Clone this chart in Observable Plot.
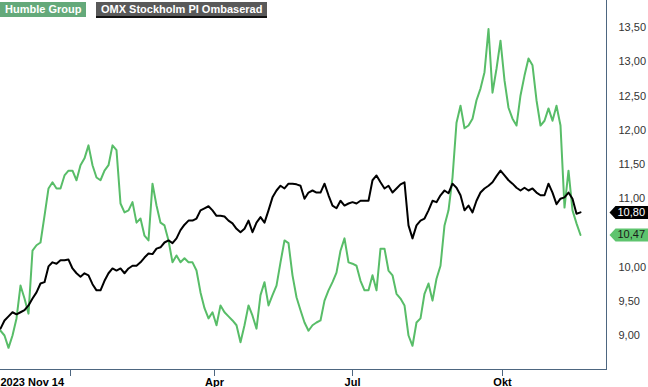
<!DOCTYPE html>
<html><head><meta charset="utf-8">
<script src="https://cdn.jsdelivr.net/npm/d3@7"></script>
<script src="https://cdn.jsdelivr.net/npm/@observablehq/plot@0.6"></script>
<style>
html,body{margin:0;padding:0;background:#fff;}
#wrap{position:relative;width:648px;height:387px;font-family:"Liberation Sans",Arial,sans-serif;overflow:hidden;}
#wrap svg{position:absolute;left:0;top:0;}
.leg{position:absolute;top:2px;height:15px;line-height:15px;font-size:11px;font-weight:bold;color:#fff;padding:0 5px;box-sizing:border-box;white-space:nowrap;}
</style></head><body><div id="wrap"></div>
<script>
const seriesNames = ["Humble Group", "OMX Stockholm PI Ombaserad"];
const humble = [9.07,9.00,8.82,9.00,9.25,9.73,9.54,9.32,10.24,10.32,10.36,10.75,11.15,11.24,11.15,11.15,11.34,11.41,11.41,11.27,
11.49,11.59,11.78,11.49,11.31,11.27,11.41,11.49,11.78,11.71,10.93,10.80,10.83,10.95,10.65,10.71,10.46,10.39,11.22,10.90,
10.65,10.61,10.39,10.07,10.17,10.07,10.13,10.07,10.07,9.95,9.63,9.40,9.25,9.34,9.15,9.44,9.34,9.28,9.22,9.15,
8.90,9.15,9.44,9.29,9.10,9.59,9.78,9.44,9.59,9.73,10.07,10.39,10.35,9.88,9.56,9.37,9.19,9.07,9.15,9.19,
9.22,9.51,9.66,9.78,9.92,10.24,10.42,10.07,10.05,10.02,9.80,9.66,9.66,9.88,9.66,10.27,10.27,9.95,9.88,9.61,
9.54,9.44,9.00,8.85,9.19,9.25,9.61,9.76,9.51,9.83,10.02,10.61,10.83,11.31,12.11,12.36,12.03,12.07,12.17,12.44,
12.61,12.85,13.48,12.55,12.90,13.31,12.73,12.33,12.17,12.07,12.51,12.80,13.05,12.95,12.44,12.07,12.14,12.32,12.14,12.36,
12.07,10.87,11.41,10.83,10.64,10.47];
const omx = [9.10,9.22,9.28,9.34,9.31,9.34,9.37,9.44,9.54,9.63,9.76,9.78,10.01,10.07,10.05,10.10,10.10,10.11,9.98,9.91,
9.86,9.91,9.88,9.75,9.66,9.66,9.80,9.91,9.98,9.95,9.98,9.91,9.98,10.02,10.02,10.07,10.14,10.20,10.19,10.27,
10.29,10.36,10.39,10.35,10.42,10.54,10.62,10.68,10.68,10.71,10.83,10.86,10.89,10.83,10.75,10.75,10.74,10.68,10.64,10.56,
10.51,10.56,10.68,10.51,10.65,10.73,10.65,10.83,11.02,11.12,11.19,11.15,11.22,11.22,11.21,11.19,11.00,11.09,11.12,11.09,
11.09,11.22,11.05,10.90,10.86,10.97,10.90,10.93,10.95,10.93,10.97,10.97,10.97,11.27,11.34,11.24,11.15,11.19,11.09,11.15,
11.21,11.24,10.61,10.42,10.61,10.68,10.71,10.83,10.97,10.95,11.05,11.12,11.08,11.22,11.16,11.05,10.83,10.90,10.80,10.97,
11.09,11.15,11.19,11.24,11.33,11.41,11.34,11.27,11.22,11.16,11.12,11.16,11.12,11.15,11.09,11.05,11.05,11.22,11.09,10.92,
11.00,11.02,11.09,11.00,10.78,10.80];
const xTickPos = [17.5, 53.5, 88, 125.5];
const xTickLabels = ["", "Apr", "Jul", "Okt"];
const startLabel = "2023 Nov 14";
const yTicks = [9, 9.5, 10, 11, 11.5, 12, 12.5, 13, 13.5];
const xDomain = [0, 151.5];
const yDomain = [8.503, 13.898];

const green = "#58bd68", black = "#000000", axisColor = "#4d6680";
const fmt = v => v.toFixed(2).replace(".", ",");
const rowsH = humble.map((v, i) => ({i, v}));
const rowsO = omx.map((v, i) => ({i, v}));
const lastH = rowsH[rowsH.length - 1], lastO = rowsO[rowsO.length - 1];

const tag = {draw(ctx) {
  ctx.moveTo(3, 0); ctx.lineTo(9, -6.5); ctx.lineTo(42, -6.5); ctx.lineTo(42, 6.5); ctx.lineTo(9, 6.5); ctx.closePath();
}};

const chart = Plot.plot({
  width: 648, height: 387,
  marginLeft: 0, marginTop: 0, marginRight: 42, marginBottom: 18,
  x: {domain: xDomain, axis: null},
  y: {domain: yDomain, axis: null},
  style: {fontFamily: '"Liberation Sans", Arial, sans-serif', fontSize: "11px", background: "transparent", overflow: "visible"},
  marks: [
    Plot.frame({anchor: "right", stroke: axisColor}),
    Plot.frame({anchor: "bottom", stroke: axisColor}),
    Plot.axisY(yTicks, {anchor: "right", label: null, tickSize: 0, tickPadding: 12, tickFormat: fmt, fill: "#333", fontSize: 11}),
    Plot.axisX(xTickPos, {anchor: "bottom", label: null, tickSize: 7, tickPadding: 2, stroke: axisColor,
      tickFormat: d => xTickLabels[xTickPos.indexOf(d)], fontWeight: "bold", fill: "#000", fontSize: 11}),
    Plot.axisX([0], {anchor: "bottom", label: null, tickSize: 0, tickPadding: 9, tickFormat: () => startLabel,
      textAnchor: "start", fontWeight: "bold", fill: "#000", fontSize: 11}),
    Plot.line(rowsH, {x: "i", y: "v", stroke: green, strokeWidth: 2}),
    Plot.line(rowsO, {x: "i", y: "v", stroke: black, strokeWidth: 2}),
    Plot.dot([lastO], {y: "v", frameAnchor: "right", symbol: tag, fill: "#000", stroke: "none", r: 5}),
    Plot.text([lastO], {y: "v", frameAnchor: "right", dx: 11, textAnchor: "start", text: d => fmt(d.v), fill: "#fff", fontSize: 11}),
    Plot.dot([lastH], {y: "v", frameAnchor: "right", symbol: tag, fill: "#5ec46e", stroke: "none", r: 5}),
    Plot.text([lastH], {y: "v", frameAnchor: "right", dx: 11, textAnchor: "start", text: d => fmt(d.v), fill: "#1a1a1a", fontSize: 11})
  ]
});
const wrap = document.getElementById("wrap");
wrap.appendChild(chart);
const l1 = document.createElement("div");
l1.className = "leg"; l1.textContent = seriesNames[0];
l1.style.left = "0px"; l1.style.background = "#64a97a";
const l2 = document.createElement("div");
l2.className = "leg"; l2.textContent = seriesNames[1];
l2.style.left = "96px"; l2.style.background = "#595959"; l2.style.borderBottom = "2px solid #111"; l2.style.height = "16px";
wrap.appendChild(l1); wrap.appendChild(l2);
</script></body></html>
